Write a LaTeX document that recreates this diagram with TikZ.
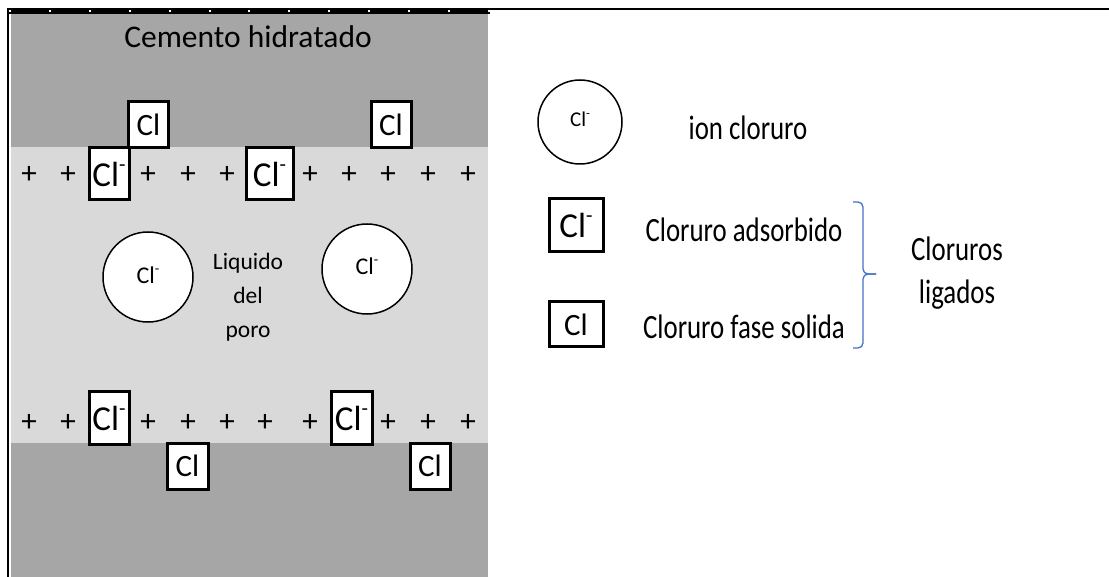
\documentclass[tikz,border=0pt]{standalone}
\usepackage{fontspec}
\setmainfont{Carlito}
\newfontfamily\legfont{Carlito}[FakeStretch=0.79]
\usepackage{tikz}
\usetikzlibrary{positioning}
\definecolor{cemgray}{RGB}{166,166,166}
\definecolor{porgray}{RGB}{217,217,217}
\definecolor{braceblue}{RGB}{68,114,196}
\newcommand{\clion}{Cl\raisebox{.42em}{\scalebox{.6}{-}}}

\begin{document}
\begin{tikzpicture}[
        x=1pt, y=-1pt,
        boxcl/.style={draw, line width=3pt, fill=white, inner sep=0pt,
          minimum width=40pt, minimum height=46pt, font=\fontsize{31}{31}\selectfont},
        boxion/.style={boxcl, minimum height=52pt, font=\fontsize{35}{35}\selectfont},
        ion/.style={circle, draw, line width=1.5pt, fill=white, inner sep=0pt,
          minimum size=90pt, font=\fontsize{24}{24}\selectfont},
        plus/.style={inner sep=0pt, font=\fontsize{31}{31}\selectfont},
        legtext/.style={align=center, font=\legfont\fontsize{34}{43}\selectfont},
        ]
        \useasboundingbox (0,0) rectangle (1109,577);
        % capas
        \fill[cemgray] (10.5,14) rectangle (488,147);
        \fill[porgray] (10.5,147) rectangle (488,443);
        \fill[cemgray] (10.5,443) rectangle (488,577);
        \draw[line width=2pt] (8,8) -- (8,577);
        \draw[line width=6pt] (8,11) -- (490,11);
        \draw[white, line width=2pt, dash pattern=on 2pt off 37.9pt] (9,11) -- (492,11);
        \draw[line width=2pt] (490,9) -- (1109,9);

        \node (cem) at (248,37) {\fontsize{31.5}{31.5}\selectfont Cemento hidratado};

        % cloruros fase solida y adsorbidos
        \node[boxcl]                     (s1) at (148.5,125) {Cl};
        \node[boxcl]                     (s2) at (391,125)   {Cl};
        \node[boxion]                    (a1) at (109,174)   {\clion};
        \node[boxion, minimum width=47pt] (a2) at (269.5,174) {\clion};
        \node[boxion]                    (a3) at (109,418)   {\clion};
        \node[boxion, minimum width=41pt] (a4) at (351.5,418) {\clion};
        \node[boxcl, minimum width=41pt]  (s3) at (187.5,466) {Cl};
        \node[boxcl]                     (s4) at (430,466)   {Cl};

        \path node[plus] (p1) at (29,175) {+}   node[plus] (p2) at (68,175) {+}
        node[plus] (p3) at (148,175) {+}  node[plus] (p4) at (188,175) {+}
        node[plus] (p5) at (227,175) {+}  node[plus] (p6) at (310,175) {+}
        node[plus] (p7) at (349,175) {+}  node[plus] (p8) at (388,175) {+}
        node[plus] (p9) at (428,175) {+}  node[plus] (p10) at (468,175) {+};
        \path node[plus] (q1) at (29,423) {+}   node[plus] (q2) at (68,423) {+}
        node[plus] (q3) at (148,423) {+}  node[plus] (q4) at (188,423) {+}
        node[plus] (q5) at (227,423) {+}  node[plus] (q6) at (265,423) {+}
        node[plus] (q7) at (310,423) {+}  node[plus] (q8) at (388,423) {+}
        node[plus] (q9) at (428,423) {+}  node[plus] (q10) at (468,423) {+};

        % liquido del poro
        \node[ion] (i1) at (148,277) {\raisebox{4pt}{\clion}};
        \node[ion] (i2) at (367,269) {\raisebox{5pt}{\clion}};
        \node[align=center, font=\fontsize{23.5}{34}\selectfont] (liq) at (248,297)
          {Liquido\\del\\poro};

        % leyenda
        \node[ion, minimum size=84pt, font=\fontsize{21}{21}\selectfont] (li) at (580,122) {\raisebox{6pt}{\clion}};
        \node[legtext] (lit) at (748,128) {ion cloruro};
        \node[boxion, minimum width=54pt, minimum height=53pt] (la) at (576,225.5) {\clion};
        \node[legtext] (lat) at (744,230) {Cloruro adsorbido};
        \node[boxcl, minimum width=54pt, minimum height=45pt] (ls) at (576,324.5) {Cl};
        \node[legtext] (lst) at (744,327) {Cloruro fase solida};
        \coordinate (bt) at (853,202);
        \coordinate (bb) at (853,348);
        \coordinate (tip) at (876,274);
        \draw[braceblue, line width=1.3pt, rounded corners=5pt] (bt) -| (863,274) -- (tip);
        \draw[braceblue, line width=1.3pt, rounded corners=5pt] (bb) -| (863,274) -- (tip);
        \node[legtext] (lig) at (957,273) {Cloruros\\ligados};
      \end{tikzpicture}
\end{document}
